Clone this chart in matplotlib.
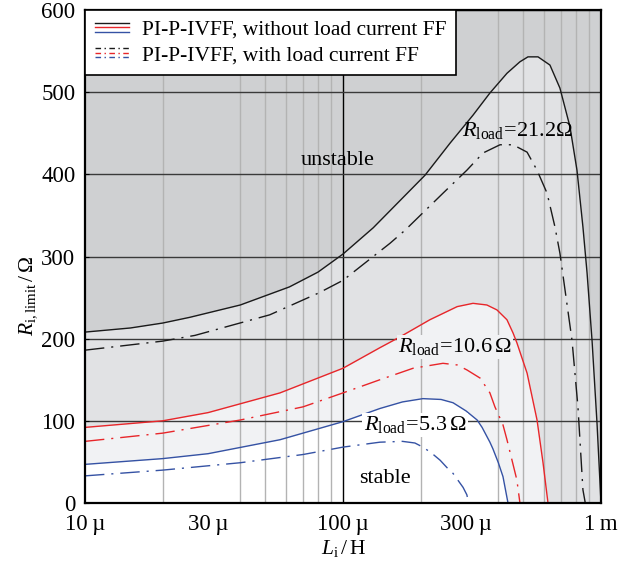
"""Stability limit R_i,limit over L_i for PI-P-IVFF, with and without load current FF."""

import matplotlib

matplotlib.use("Agg")
import matplotlib.pyplot as plt  # noqa: E402
from matplotlib.legend_handler import HandlerBase  # noqa: E402
from matplotlib.lines import Line2D  # noqa: E402
from matplotlib.ticker import FixedLocator, NullFormatter  # noqa: E402

# inductance in µH, limit resistance in Ω
L_BLACK = [10, 15, 20, 25.5, 40, 62, 80, 100, 131, 208, 260, 319, 371, 432, 485, 521, 570, 634, 693, 758, 807, 851, 883, 923, 965, 1000]
R_BLACK = [208, 213, 219, 226, 241, 263, 281, 303, 335, 399, 438, 472, 499, 523, 537, 543, 543, 533, 505, 458, 405, 336, 280, 198, 97, 0]

L_BLACK_FF = [10, 20, 26.7, 52, 81, 100, 152, 174, 244, 302, 349, 406, 456, 517, 565, 618, 663, 693, 772, 814, 851, 869]
R_BLACK_FF = [186, 197, 204, 229, 256, 271, 316, 332, 377, 405, 426, 436, 436, 427, 405, 377, 336, 304, 198, 117, 16, 0]

L_RED = [10, 20, 30, 57, 100, 139, 166, 217, 277, 319, 361, 395, 432, 456, 472, 517, 565, 596, 623]
R_RED = [92, 100, 110, 134, 164, 189, 202, 223, 239, 243, 241, 235, 223, 207, 195, 158, 101, 49, 0]

L_RED_FF = [10, 20, 40, 70, 100, 139, 187, 244, 277, 302, 340, 371, 388, 417, 432, 472, 485]
R_RED_FF = [75, 85, 101, 117, 134, 150, 164, 170, 168, 162, 152, 134, 117, 95, 77, 28, 0]

L_BLUE = [10, 20, 30, 57, 100, 139, 170, 204, 240, 267, 300, 331, 346, 371, 381, 400, 417, 436]
R_BLUE = [47, 54, 60, 77, 99, 115, 123, 127, 126, 122, 112, 101, 92, 74, 66, 49, 32, 0]

L_BLUE_FF = [10, 20, 40, 70, 100, 139, 170, 190, 204, 220, 238, 253, 267, 292, 302, 307]
R_BLUE_FF = [33, 40, 49, 59, 68, 74, 75, 73, 68, 61, 52, 43, 36, 19, 10, 0]

X_TICKS = [1e-5, 3e-5, 1e-4, 3e-4, 1e-3]
X_TICK_LABELS = ["10\u2009µ", "30\u2009µ", "100\u2009µ", "300\u2009µ", "1\u2009m"]
Y_TICKS = [0, 100, 200, 300, 400, 500, 600]

COLORS = ["#1a1a1a", "#e8262a", "#3552a4"]
FILLS = ["#cfd0d2", "#e1e2e4", "#f1f2f4", "#ffffff"]
DASHDOT = (0, (14, 5, 1.5, 5))

plt.rcParams["font.family"] = ["Liberation Serif", "DejaVu Serif"]
plt.rcParams["mathtext.fontset"] = "custom"
plt.rcParams["mathtext.rm"] = "Liberation Serif"
plt.rcParams["mathtext.it"] = "Liberation Serif:italic"
plt.rcParams["font.size"] = 15.5


def uh(values):
    return [v * 1e-6 for v in values]


class StackHandler(HandlerBase):
    """Three stacked short lines (black, red, blue) as one legend handle."""

    def __init__(self, dashes):
        super().__init__()
        self.dashes = dashes

    def create_artists(self, legend, orig_handle, xdescent, ydescent, width, height, fontsize, trans):
        artists = []
        for i, color in enumerate(COLORS):
            y = height / 2 - ydescent + (1 - i) * 3.2
            line = Line2D([-xdescent, width - xdescent], [y, y], color=color, lw=1.0,
                          linestyle=self.dashes, transform=trans)
            artists.append(line)
        return artists


figure = plt.figure(figsize=(6.37, 5.63), dpi=100)
axis = figure.add_axes((0.1334, 0.1066, 0.9435 - 0.1334, 0.9822 - 0.1066))
axis.set_facecolor(FILLS[0])
axis.set_xscale("log")
axis.set_xlim(1e-5, 1e-3)
axis.set_ylim(0, 600)

axis.fill_between(uh(L_BLACK), R_BLACK, 0, color=FILLS[1], lw=0, zorder=0.5)
axis.fill_between(uh(L_RED), R_RED, 0, color=FILLS[2], lw=0, zorder=0.6)
axis.fill_between(uh(L_BLUE), R_BLUE, 0, color=FILLS[3], lw=0, zorder=0.7)

# grid
axis.xaxis.set_minor_locator(FixedLocator([m * d for d in (1e-5, 1e-4) for m in range(2, 10)]))
axis.xaxis.set_minor_formatter(NullFormatter())
axis.grid(which="minor", axis="x", color="#b3b3b3", lw=1.0, zorder=1)
axis.grid(which="major", axis="y", color="#3a3a3a", lw=1.0, zorder=1)
axis.axvline(1e-4, color="black", lw=1.0, zorder=1.1)
axis.set_axisbelow(False)

series = [
    (L_BLACK, R_BLACK, COLORS[0], "-"),
    (L_BLACK_FF, R_BLACK_FF, COLORS[0], DASHDOT),
    (L_RED, R_RED, COLORS[1], "-"),
    (L_RED_FF, R_RED_FF, COLORS[1], DASHDOT),
    (L_BLUE, R_BLUE, COLORS[2], "-"),
    (L_BLUE_FF, R_BLUE_FF, COLORS[2], DASHDOT),
]
for xs, ys, color, style in series:
    axis.plot(uh(xs), ys, color=color, linestyle=style, lw=1.0, zorder=3)

axis.set_xticks(X_TICKS)
axis.set_xticklabels(X_TICK_LABELS)
axis.set_yticks(Y_TICKS)
axis.tick_params(axis="x", which="both", length=0, pad=8, labelsize=16.5)
axis.tick_params(axis="y", direction="in", length=3, pad=7, labelsize=16.5)
for spine in axis.spines.values():
    spine.set_linewidth(1.6)
    spine.set_zorder(5)

axis.set_xlabel(r"$L_{\mathrm{i}}\,/\,\mathrm{H}$", labelpad=2)
axis.set_ylabel(r"$R_{\mathrm{i,limit}}\,/\,\Omega$")
axis.yaxis.set_label_coords(-0.089, 0.42)

axis.text(95e-6, 417, "unstable", ha="center", va="center", zorder=4, fontsize=16)
axis.text(146e-6, 30, "stable", ha="center", va="center", zorder=4, fontsize=16)
axis.text(474e-6, 453, r"$R_{\mathrm{load}}\!=\!21.2\Omega$", ha="center", va="center", zorder=4, fontsize=16)
axis.text(272e-6, 190, r"$R_{\mathrm{load}}\!=\!10.6\,\Omega$", ha="center", va="center", zorder=4, fontsize=16,
          bbox={"facecolor": FILLS[2], "edgecolor": "none", "pad": 1})
axis.text(190e-6, 95, r"$R_{\mathrm{load}}\!=\!5.3\,\Omega$", ha="center", va="center", zorder=4, fontsize=16,
          bbox={"facecolor": FILLS[3], "edgecolor": "none", "pad": 1})

h_plain = Line2D([], [])
h_ff = Line2D([], [])
legend = axis.legend(
    [h_plain, h_ff],
    ["PI-P-IVFF, without load current FF", "PI-P-IVFF, with load current FF"],
    handler_map={h_plain: StackHandler("-"), h_ff: StackHandler((0, (4, 2.5, 1, 2.5)))},
    loc="upper left",
    bbox_to_anchor=(0, 1),
    borderaxespad=0,
    fancybox=False,
    framealpha=1,
    edgecolor="black",
    handlelength=1.6,
    handletextpad=0.6,
    labelspacing=0.25,
    borderpad=0.45,
)
legend.get_frame().set_linewidth(1.2)
legend.set_zorder(6)

figure.savefig("out.png", dpi=100)
